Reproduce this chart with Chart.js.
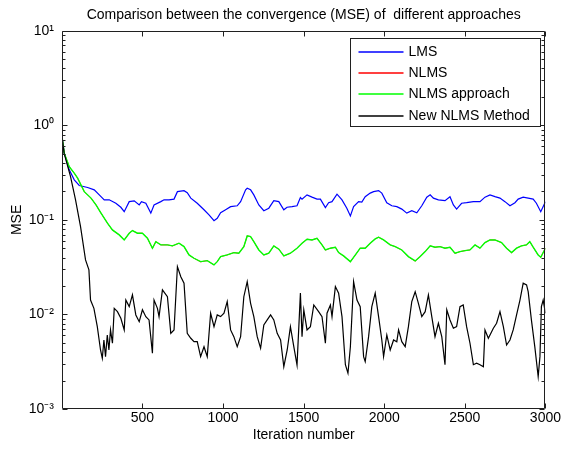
<!DOCTYPE html>
<html><head><meta charset="utf-8">
<script src="https://cdn.jsdelivr.net/npm/chart.js@4/dist/chart.umd.min.js"></script>
<style>html,body{margin:0;padding:0;background:#fff}#wrap{width:562px;height:452px}</style>
</head><body><div id="wrap"><canvas id="c" width="562" height="452"></canvas></div>
<script>
const chartTitle = 'Comparison between the convergence (MSE) of  different approaches';
const xTitle = 'Iteration number';
const yTitle = 'MSE';
const seriesNames = ['LMS', 'NLMS', 'NLMS approach', 'New NLMS Method'];
const seriesColors = ['#0000ff', '#ff0000', '#00ff00', '#000000'];
const xTickValues = [500, 1000, 1500, 2000, 2500, 3000];
const yTickValues = [0.001, 0.01, 0.1, 1, 10];
const yTickLabels = ['10\u207B\u00B3', '10\u207B\u00B2', '10\u207B\u00B9', '10\u2070', '10\u00B9'];

const lmsIter = [1,15,46,77,108,160,201,243,263,294,
335,366,387,418,449,480,494,521,552,572,
614,634,665,696,717,758,778,800,840,882,
913,944,964,985,1016,1047,1088,1109,1140,1150,
1171,1191,1222,1253,1284,1315,1346,1377,1397,1428,
1459,1480,1490,1521,1552,1583,1604,1635,1655,1676,
1707,1738,1768,1790,1810,1841,1861,1882,1913,1934,
1965,1985,2016,2047,2078,2109,2140,2171,2202,2233,
2264,2285,2305,2336,2377,2408,2429,2449,2480,2511,
2553,2594,2625,2656,2687,2718,2749,2780,2811,2831,
2862,2893,2924,2944,2971,3000];
const lmsMSE = [0.761,0.508,0.338,0.265,0.231,0.220,0.208,0.176,0.163,0.163,
0.150,0.136,0.122,0.156,0.159,0.144,0.156,0.150,0.118,0.144,
0.156,0.163,0.163,0.166,0.199,0.204,0.194,0.170,0.150,0.128,
0.113,0.098,0.104,0.119,0.128,0.138,0.141,0.156,0.208,0.216,
0.208,0.184,0.144,0.125,0.133,0.160,0.156,0.128,0.136,0.138,
0.141,0.172,0.166,0.184,0.174,0.166,0.166,0.135,0.152,0.156,
0.187,0.163,0.133,0.110,0.138,0.156,0.154,0.176,0.192,0.199,
0.204,0.192,0.152,0.141,0.138,0.130,0.118,0.125,0.119,0.141,
0.174,0.184,0.170,0.163,0.160,0.176,0.144,0.130,0.150,0.152,
0.156,0.156,0.174,0.184,0.176,0.170,0.156,0.141,0.152,0.166,
0.174,0.170,0.166,0.150,0.122,0.156];

const nlmsIter = [1,15,46,77,98,139,181,212,243,283,
314,356,387,418,438,469,500,531,562,583,
614,655,686,727,758,789,820,861,902,944,
964,985,1026,1067,1098,1129,1150,1171,1191,1222,
1253,1284,1315,1346,1377,1418,1459,1490,1521,1552,
1583,1614,1635,1666,1697,1717,1748,1790,1821,1851,
1882,1913,1944,1965,1996,2037,2068,2109,2150,2192,
2223,2254,2285,2315,2346,2377,2408,2439,2470,2501,
2532,2563,2594,2625,2656,2687,2728,2759,2790,2821,
2851,2882,2903,2924,2955,2971,3000];
const nlmsMSE = [0.761,0.508,0.365,0.311,0.276,0.199,0.170,0.144,0.118,0.0923,
0.0778,0.0694,0.0614,0.0723,0.0771,0.0723,0.0723,0.064,0.0500,0.0589,
0.0544,0.0544,0.0531,0.0567,0.0522,0.0424,0.0393,0.0360,0.0371,0.0334,
0.0362,0.0409,0.0426,0.0451,0.0444,0.0522,0.0677,0.0666,0.0589,0.0481,
0.0426,0.0444,0.0531,0.049,0.0416,0.0444,0.0502,0.0567,0.0625,0.0614,
0.064,0.0544,0.0479,0.0502,0.0514,0.0451,0.0414,0.0360,0.0426,0.0502,
0.0502,0.0567,0.0629,0.0656,0.0614,0.0544,0.0522,0.0481,0.0407,0.0366,
0.0409,0.0462,0.0531,0.0514,0.0522,0.0502,0.0514,0.0442,0.0462,0.0473,
0.0481,0.0544,0.0502,0.0575,0.0614,0.0614,0.0575,0.0500,0.0449,0.0502,
0.0531,0.0544,0.0589,0.0514,0.0424,0.0401,0.0502];

const approachIter = nlmsIter.slice();
const approachMSE = [0.761,0.508,0.366,0.312,0.276,0.199,0.170,0.144,0.118,0.0923,
0.0784,0.0694,0.0614,0.0723,0.0771,0.0723,0.0723,0.064,0.0502,0.0589,
0.0544,0.0544,0.0531,0.0567,0.0522,0.0426,0.0393,0.0362,0.0371,0.0334,
0.0362,0.0409,0.0426,0.0451,0.0444,0.0522,0.0677,0.0666,0.0589,0.0481,
0.0426,0.0444,0.0531,0.049,0.0416,0.0444,0.0502,0.0567,0.0625,0.0614,
0.064,0.0544,0.0481,0.0502,0.0514,0.0451,0.0416,0.0362,0.0426,0.0502,
0.0502,0.0567,0.0629,0.0656,0.0614,0.0544,0.0522,0.0481,0.0409,0.0368,
0.0409,0.0462,0.0531,0.0514,0.0522,0.0502,0.0514,0.0444,0.0462,0.0473,
0.0481,0.0544,0.0502,0.0575,0.0614,0.0614,0.0575,0.0502,0.0451,0.0502,
0.0531,0.0544,0.0589,0.0514,0.0426,0.0403,0.0502];

const newIter = [1,14,54,85,116,147,168,178,199,220,
240,251,261,271,282,292,302,314,325,345,
366,387,397,418,438,459,480,500,521,541,
562,572,593,603,624,655,676,696,717,738,
758,778,800,820,840,861,882,902,923,944,
964,985,1006,1026,1047,1067,1088,1109,1129,1150,
1171,1191,1212,1233,1253,1274,1295,1315,1336,1357,
1377,1398,1418,1439,1459,1480,1490,1501,1521,1542,
1563,1593,1614,1635,1645,1666,1676,1697,1717,1738,
1759,1775,1790,1810,1831,1851,1872,1882,1903,1923,
1944,1965,1985,1996,2016,2037,2058,2078,2089,2109,
2130,2150,2171,2192,2212,2233,2254,2274,2295,2315,
2336,2357,2377,2388,2408,2429,2449,2470,2490,2511,
2532,2553,2573,2594,2615,2625,2646,2677,2697,2718,
2739,2759,2780,2800,2821,2842,2862,2883,2893,2913,
2934,2955,2966,2975,2986,3000];
const newMSE = [0.761,0.508,0.287,0.163,0.0849,0.0377,0.0296,0.0142,0.0116,0.00743,
0.00421,0.00344,0.00537,0.00358,0.00607,0.00421,0.00686,0.00496,0.0116,0.0107,
0.00912,0.00686,0.0142,0.0121,0.0161,0.00988,0.00839,0.0112,0.00948,0.00875,
0.00389,0.0142,0.0116,0.00948,0.0182,0.0154,0.00632,0.00686,0.0321,0.0251,
0.0214,0.00632,0.0056,0.00515,0.00515,0.00358,0.00456,0.00358,0.0103,0.00743,
0.00988,0.00948,0.0103,0.0137,0.00686,0.00582,0.00456,0.00582,0.0154,0.0222,
0.0131,0.00948,0.00582,0.00439,0.00774,0.00875,0.00988,0.00875,0.00632,0.00537,
0.0028,0.00421,0.00743,0.00456,0.00292,0.0168,0.00582,0.0112,0.00686,0.00743,
0.0126,0.0107,0.00948,0.00496,0.0103,0.0126,0.00948,0.0197,0.0168,0.00948,
0.00294,0.00239,0.00456,0.0222,0.0142,0.0121,0.00358,0.00317,0.00582,0.0121,
0.0168,0.00948,0.00537,0.00358,0.00607,0.00421,0.00537,0.00515,0.00686,0.00515,
0.00456,0.00743,0.0137,0.0174,0.0131,0.00948,0.0107,0.0161,0.00948,0.00582,
0.00807,0.00582,0.00294,0.0112,0.00875,0.00714,0.00743,0.0121,0.0126,0.00743,
0.00496,0.00294,0.00305,0.00294,0.0028,0.00686,0.0056,0.00714,0.00807,0.0107,
0.00743,0.00475,0.00537,0.00686,0.00988,0.0142,0.0214,0.0205,0.0174,0.00875,
0.00456,0.0022,0.00358,0.0121,0.0142,0.0103];

const FONT = "'Liberation Sans', Arial, Helvetica, sans-serif";
const lineWidths = [1.2, 0.8, 1.4, 1.2];
const pairs = (xs, ys) => xs.map((x, i) => ({x: x, y: ys[i]}));
const seriesData = [pairs(lmsIter, lmsMSE), pairs(nlmsIter, nlmsMSE), pairs(approachIter, approachMSE), pairs(newIter, newMSE)];

const matlabAxes = {
  id: 'matlabAxes',
  afterDatasetsDraw(chart) {
    const {ctx, chartArea: a, scales: {x, y}} = chart;
    ctx.save();
    ctx.strokeStyle = '#202020';
    ctx.lineWidth = 1;
    const L = Math.round(a.left) + 0.5, R = Math.round(a.right) - 0.5;
    const T = Math.round(a.top) + 0.5, B = Math.round(a.bottom) - 0.5;
    ctx.beginPath();
    ctx.rect(L, T, R - L, B - T);
    xTickValues.forEach(v => {
      const px = Math.round(x.getPixelForValue(v)) + 0.5;
      ctx.moveTo(px, B); ctx.lineTo(px, B - 5);
      ctx.moveTo(px, T); ctx.lineTo(px, T + 5);
    });
    for (let e = -3; e <= 1; e++) {
      for (let k = 1; k <= 9; k++) {
        if (e === 1 && k > 1) break;
        const v = k * Math.pow(10, e);
        const py = Math.round(y.getPixelForValue(v)) + 0.5;
        const len = k === 1 ? 5 : 3;
        ctx.moveTo(L, py); ctx.lineTo(L + len, py);
        ctx.moveTo(R, py); ctx.lineTo(R - len, py);
      }
    }
    ctx.stroke();
    ctx.restore();
  },
  afterDraw(chart) {
    const {ctx, chartArea: a} = chart;
    ctx.save();
    const bl = Math.round(a.right - 195) + 0.5, bt = Math.round(a.top + 7) + 0.5;
    const bw = 190, bh = 88;
    ctx.fillStyle = '#fff';
    ctx.fillRect(bl, bt, bw, bh);
    ctx.strokeStyle = '#202020';
    ctx.lineWidth = 1;
    ctx.strokeRect(bl, bt, bw, bh);
    ctx.font = '14px ' + FONT;
    ctx.textBaseline = 'middle';
    ctx.textAlign = 'left';
    chart.data.datasets.forEach((ds, i) => {
      const ry = Math.round(bt + 13.5 + i * 21.2);
      ctx.strokeStyle = ds.borderColor;
      ctx.lineWidth = 1.6;
      ctx.beginPath();
      ctx.moveTo(bl + 8, ry); ctx.lineTo(bl + 53, ry);
      ctx.stroke();
      ctx.fillStyle = '#000';
      ctx.fillText(ds.label, bl + 58, ry);
    });
    ctx.restore();
  }
};

new Chart(document.getElementById('c'), {
  type: 'line',
  data: {
    datasets: seriesNames.map((name, i) => ({
      label: name,
      data: seriesData[i],
      borderColor: seriesColors[i],
      backgroundColor: seriesColors[i],
      borderWidth: lineWidths[i],
      pointRadius: 0,
      tension: 0,
      fill: false,
      order: 4 - i
    }))
  },
  options: {
    responsive: false,
    animation: false,
    devicePixelRatio: 1,
    layout: {padding: {left: 0, right: 15, top: 0, bottom: 0}},
    plugins: {
      legend: {display: false},
      tooltip: {enabled: false},
      title: {
        display: true, text: chartTitle, fullSize: false, color: '#000',
        font: {family: FONT, size: 14, weight: 'normal'},
        padding: {top: 7, bottom: 7}
      }
    },
    scales: {
      x: {
        type: 'linear', position: 'bottom', min: 1, max: 3000,
        grid: {display: false, drawTicks: false},
        border: {display: false},
        afterBuildTicks: s => { s.ticks = xTickValues.map(v => ({value: v})); },
        afterFit: s => { s.height = 43; },
        ticks: {color: '#000', font: {family: FONT, size: 14}, padding: 1, maxRotation: 0, autoSkip: false,
          callback: v => String(v)},
        title: {display: true, text: xTitle, color: '#000', font: {family: FONT, size: 14}, padding: {top: 0, bottom: 8}}
      },
      y: {
        type: 'logarithmic', position: 'left', min: 0.001, max: 10,
        grid: {display: false, drawTicks: false},
        border: {display: false},
        afterBuildTicks: s => { s.ticks = yTickValues.map(v => ({value: v})); },
        afterFit: s => { s.width = 62; },
        ticks: {color: '#000', font: {family: FONT, size: 14}, padding: 8, autoSkip: false,
          callback: (v, i) => yTickLabels[i]},
        title: {display: true, text: yTitle, color: '#000', font: {family: FONT, size: 14}, padding: {top: 9, bottom: 0}}
      }
    }
  },
  plugins: [matlabAxes]
});
</script></body></html>
